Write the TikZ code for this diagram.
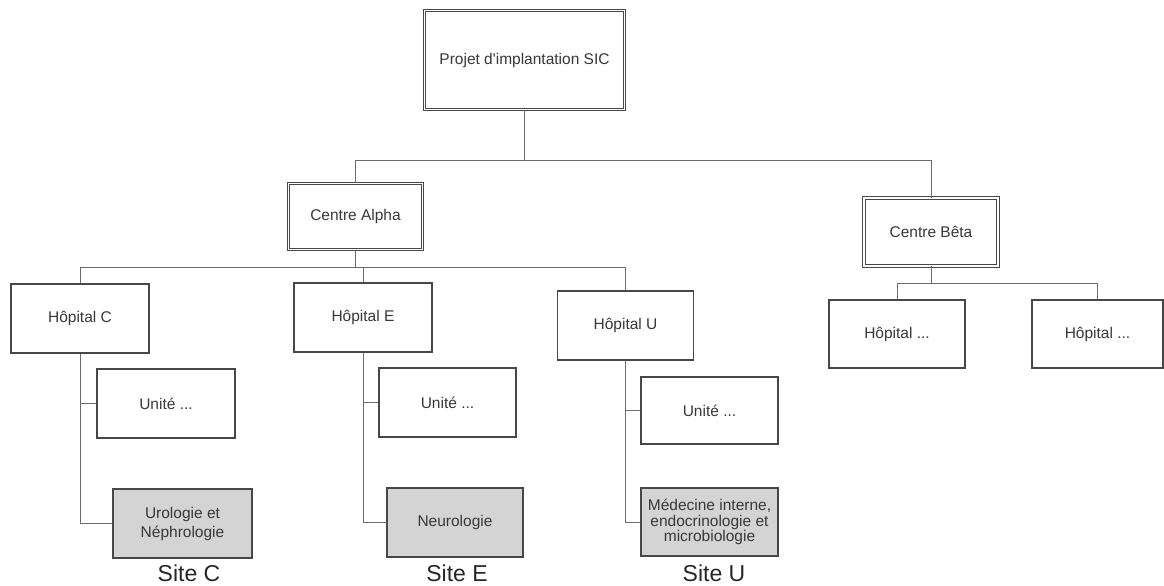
\documentclass[tikz,border=0pt]{standalone}
\usepackage{fontspec}
\setmainfont{Liberation Sans}
\begin{document}
\begin{tikzpicture}[x=1pt,y=-1pt,
  every node/.style={text=black!78, font=\fontsize{15.5}{19}\selectfont},
  box/.style={draw=black!72, line width=1.1pt, fill=white, inner sep=0pt, align=center},
  dbox/.style={box, double=white, double distance=1.8pt, line width=0.9pt},
  gbox/.style={box, fill=black!17},
  conn/.style={draw=black!58, line width=0.9pt},
  site/.style={font=\fontsize{23}{26}\selectfont, text=black!85}
]
\useasboundingbox (0,0) rectangle (1164,586);
% top level
\node[dbox, minimum width=200, minimum height=99] (top) at (524.5,60) {Projet d\textquotesingle implantation SIC};
\node[dbox, minimum width=134, minimum height=66] (alpha) at (355.5,216.5) {Centre Alpha};
\node[dbox, minimum width=134, minimum height=68] (beta) at (931,232) {Centre Bêta};
% hospitals
\node[box, minimum width=138, minimum height=69] (hc) at (80,318.5) {Hôpital C};
\node[box, minimum width=138, minimum height=69] (he) at (363,317.5) {Hôpital E};
\node[box, minimum width=136, minimum height=69] (hu) at (625.5,325.5) {Hôpital U};
\node[box, minimum width=136, minimum height=68] (hb1) at (897,334) {Hôpital ...};
\node[box, minimum width=131, minimum height=68] (hb2) at (1097.5,334) {Hôpital ...};
% units
\node[box, minimum width=138, minimum height=69] (uc) at (166,403.5) {Unité ...};
\node[box, minimum width=137, minimum height=69] (ue) at (447.5,402.5) {Unité ...};
\node[box, minimum width=137, minimum height=67] (uu) at (709.5,410.5) {Unité ...};
% grey units
\node[gbox, minimum width=139, minimum height=69] (gc) at (182.5,523.5) {Urologie et\\Néphrologie};
\node[gbox, minimum width=136, minimum height=69] (ge) at (455,522.5) {Neurologie};
\node[gbox, minimum width=137, minimum height=68, font=\fontsize{15.5}{15.5}\selectfont] (gu) at (709.5,522) {Médecine interne,\\endocrinologie et\\microbiologie};
% site labels
\node[site] (sc) at (189,573) {Site C};
\node[site] (se) at (457,573) {Site E};
\node[site] (su) at (714,573) {Site U};
% connectors
\coordinate (b1) at (524.5,160);
\coordinate (b2) at (355.5,267);
\coordinate (b3) at (931,283);
\draw[conn] (top.south) -- (b1);
\draw[conn] (alpha.north) -- (alpha.north |- b1) -- (beta.north |- b1) -- (beta.north);
\draw[conn] (alpha.south) -- (b2);
\draw[conn] (hc.north) -- (hc.north |- b2) -- (hu.north |- b2) -- (hu.north);
\draw[conn] (he.north) -- (he.north |- b2);
\draw[conn] (beta.south) -- (b3);
\draw[conn] (hb1.north) -- (hb1.north |- b3) -- (hb2.north |- b3) -- (hb2.north);
\draw[conn] (hc.south) -- (hc.south |- gc.west) -- (gc.west);
\draw[conn] (hc.south |- uc.west) -- (uc.west);
\draw[conn] (he.south) -- (he.south |- ge.west) -- (ge.west);
\draw[conn] (he.south |- ue.west) -- (ue.west);
\draw[conn] (hu.south) -- (hu.south |- gu.west) -- (gu.west);
\draw[conn] (hu.south |- uu.west) -- (uu.west);
\end{tikzpicture}
\end{document}
